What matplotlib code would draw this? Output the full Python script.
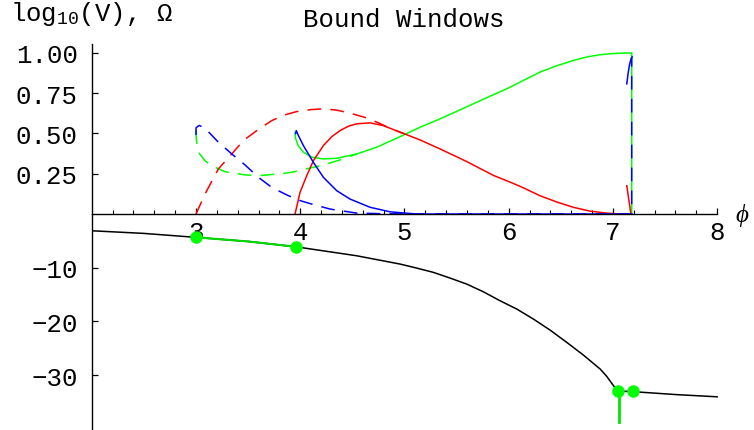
import matplotlib
matplotlib.use("Agg")
import matplotlib.pyplot as plt

plt.rcParams['font.family'] = ['Liberation Mono', 'DejaVu Sans Mono', 'DejaVu Sans']
plt.rcParams['mathtext.fontset'] = 'custom'
plt.rcParams['mathtext.rm'] = 'Liberation Mono'
plt.rcParams['mathtext.it'] = 'Liberation Serif:italic'

# ---- data ----
K = 30.0  # Omega is drawn scaled into log10(V) units

phi_V = [2.0, 2.5, 3.0, 3.5, 3.957, 4.54, 4.958, 5.118, 5.278, 5.438, 5.598,
         5.757, 5.918, 6.078, 6.237, 6.397, 6.558, 6.717, 6.878, 6.94, 7.006,
         7.045, 7.19, 7.26, 7.6, 8.0]
logV = [-3.11, -3.6, -4.34, -5.1, -6.09, -7.76, -9.31, -10.06, -10.86, -11.92,
        -13.04, -14.47, -16.15, -17.69, -19.55, -21.6, -23.9, -26.26, -28.86,
        -30.2, -31.97, -33.0, -33.0, -33.15, -33.6, -34.02]

win_phi = [3.0, 3.5, 3.957]
win_logV = [-4.34, -5.1, -6.09]
dot_phi = [3.0, 3.957, 7.045, 7.19]
dot_logV = [-4.34, -6.09, -33.0, -33.0]
stem_phi = [7.06, 7.06]
stem_logV = [-33.0, -38.8]

red_dash_x = [3.0, 3.086, 3.214, 3.343, 3.454, 3.583, 3.726, 3.854, 3.966, 4.1,
              4.22, 4.35, 4.478, 4.62, 4.766, 4.85, 4.99]
red_dash_y = [0.0, 0.124, 0.28, 0.373, 0.456, 0.518, 0.58, 0.616, 0.636, 0.648,
              0.653, 0.645, 0.626, 0.6, 0.562, 0.535, 0.50]

red_x = [3.95, 3.998, 4.062, 4.126, 4.222, 4.302, 4.382, 4.462, 4.542, 4.67,
         4.797, 4.99, 5.15, 5.342, 5.6, 5.853, 5.98, 6.11, 6.30, 6.46, 6.62,
         6.78, 6.94, 7.05, 7.165]
red_y = [0.0, 0.135, 0.238, 0.331, 0.425, 0.48, 0.518, 0.545, 0.56, 0.566,
         0.549, 0.50, 0.46, 0.404, 0.325, 0.24, 0.207, 0.172, 0.114, 0.075,
         0.042, 0.018, 0.006, 0.001, 0.0]
red_tip_x = [7.133, 7.17]
red_tip_y = [0.176, 0.01]

green_x = [3.95, 3.955, 3.98, 4.03, 4.11, 4.222, 4.35, 4.542, 4.734, 4.99, 5.15,
           5.342, 5.5, 5.66, 5.82, 5.98, 6.14, 6.30, 6.46, 6.62, 6.75, 6.877,
           7.0, 7.1, 7.18, 7.18]
green_y = [0.508, 0.47, 0.425, 0.384, 0.353, 0.342, 0.346, 0.373, 0.415, 0.49,
           0.539, 0.591, 0.637, 0.684, 0.731, 0.777, 0.829, 0.881, 0.92, 0.953,
           0.975, 0.989, 0.996, 0.999, 1.0, 0.0]

green_dash_x = [3.0, 3.003, 3.022, 3.086, 3.15, 3.278, 3.47, 3.598, 3.79, 3.918,
                3.98, 4.126, 4.222, 4.382, 4.542]
green_dash_y = [0.52, 0.46, 0.384, 0.331, 0.30, 0.263, 0.243, 0.238, 0.249,
                0.259, 0.269, 0.29, 0.305, 0.336, 0.373]

blue_dash_x = [3.0, 3.0, 3.03, 3.086, 3.214, 3.343, 3.47, 3.598, 3.726, 3.854,
               3.918, 3.98, 4.11, 4.286, 4.542, 4.8, 5.2, 6.0, 7.0, 7.18, 7.18]
blue_dash_y = [0.49, 0.535, 0.55, 0.533, 0.446, 0.373, 0.305, 0.228, 0.166,
               0.124, 0.105, 0.087, 0.062, 0.031, 0.006, 0.002, 0.0, 0.0, 0.0,
               0.0, 0.97]

blue_x = [3.955, 3.962, 3.98, 4.03, 4.126, 4.222, 4.35, 4.478, 4.67, 4.862,
          5.12, 6.0, 7.18]
blue_y = [0.50, 0.518, 0.49, 0.425, 0.321, 0.228, 0.145, 0.093, 0.042, 0.014,
          0.0, 0.0, 0.0]
blue_tip_x = [7.133, 7.145, 7.16, 7.175, 7.185]
blue_tip_y = [0.808, 0.87, 0.93, 0.965, 0.975]

x_ticks = [3, 4, 5, 6, 7, 8]
x_ticklabels = ['3', '4', '5', '6', '7', '8']
y_ticks_logV = [-30, -20, -10]
y_ticks_omega = [0.25, 0.50, 0.75, 1.00]

# ---- figure ----
W, H = 754, 431
fig = plt.figure(figsize=(W / 100, H / 100), dpi=100)
x0_px, x1_px = 91.8, 738.0
top_px = 37.8
ax = fig.add_axes([x0_px / W, 0.0, (x1_px - x0_px) / W, (H - top_px) / H])
ax.set_xlim(2.0, 8.2)
ax.set_ylim(-40.2, 33.0)
ax.patch.set_visible(False)


def om(v):
    return [K * t for t in v]


lw = 1.1
dash = (9, 6)
ax.plot(green_dash_x, om(green_dash_y), color=(0, 1, 0), lw=lw, dashes=dash)
ax.plot(green_x, om(green_y), color=(0, 1, 0), lw=lw)
ax.plot(red_dash_x, om(red_dash_y), color=(1, 0, 0), lw=lw, dashes=dash)
ax.plot(red_x, om(red_y), color=(1, 0, 0), lw=lw)
ax.plot(red_tip_x, om(red_tip_y), color=(1, 0, 0), lw=lw)
ax.plot(blue_x, om(blue_y), color=(0, 0, 1), lw=lw)
ax.plot(blue_dash_x, om(blue_dash_y), color=(0, 0, 1), lw=lw, dashes=dash)
ax.plot(blue_tip_x, om(blue_tip_y), color=(0, 0, 1), lw=lw)

ax.plot(phi_V, logV, color='black', lw=1.1)
ax.plot(win_phi, win_logV, color=(0, 0.85, 0), lw=1.5, zorder=3)
ax.plot(stem_phi, stem_logV, color=(0, 0.9, 0), lw=2.0, zorder=3)
ax.plot(dot_phi, dot_logV, 'o', color=(0, 1, 0), ms=9, mec='none', zorder=4,
        clip_on=False)

# axes
for s in ['top', 'right']:
    ax.spines[s].set_visible(False)
ax.spines['bottom'].set_position(('data', 0))
ax.spines['bottom'].set_bounds(2.0, 8.0)
ax.spines['left'].set_bounds(-40.2, 31.7)
for s in ['bottom', 'left']:
    ax.spines[s].set_linewidth(1.0)

ax.set_xticks(x_ticks)
ax.set_xticklabels(x_ticklabels)
ax.set_xticks([v / 5 for v in range(11, 40) if v % 5 != 0], minor=True)
ax.tick_params(axis='x', which='major', direction='in', length=4.3, width=0.9,
               labelsize=18.5, pad=4.5)
ax.tick_params(axis='x', which='minor', direction='in', length=3.0, width=0.8)

yt = y_ticks_logV + [K * v for v in y_ticks_omega]
ylab = ['\u2212%d' % abs(v) for v in y_ticks_logV] + ['%.2f' % v for v in y_ticks_omega]
ax.set_yticks(yt)
ax.set_yticklabels(ylab)
ax.tick_params(axis='y', which='major', direction='in', length=4.0, width=0.9,
               labelsize=18.5, pad=10)

fig.text(303 / W, 1 - 27 / H, 'Bound Windows', fontsize=18.5, ha='left',
         va='baseline')
fig.text(10 / W, 1 - 21 / H, 'log$_{10}$(V), \u03a9',
         fontsize=18.5, ha='left', va='baseline')
fig.text(735 / W, 1 - 222 / H, r'$\phi$', fontsize=18, ha='left',
         va='baseline')

fig.savefig('out.png', dpi=100)
